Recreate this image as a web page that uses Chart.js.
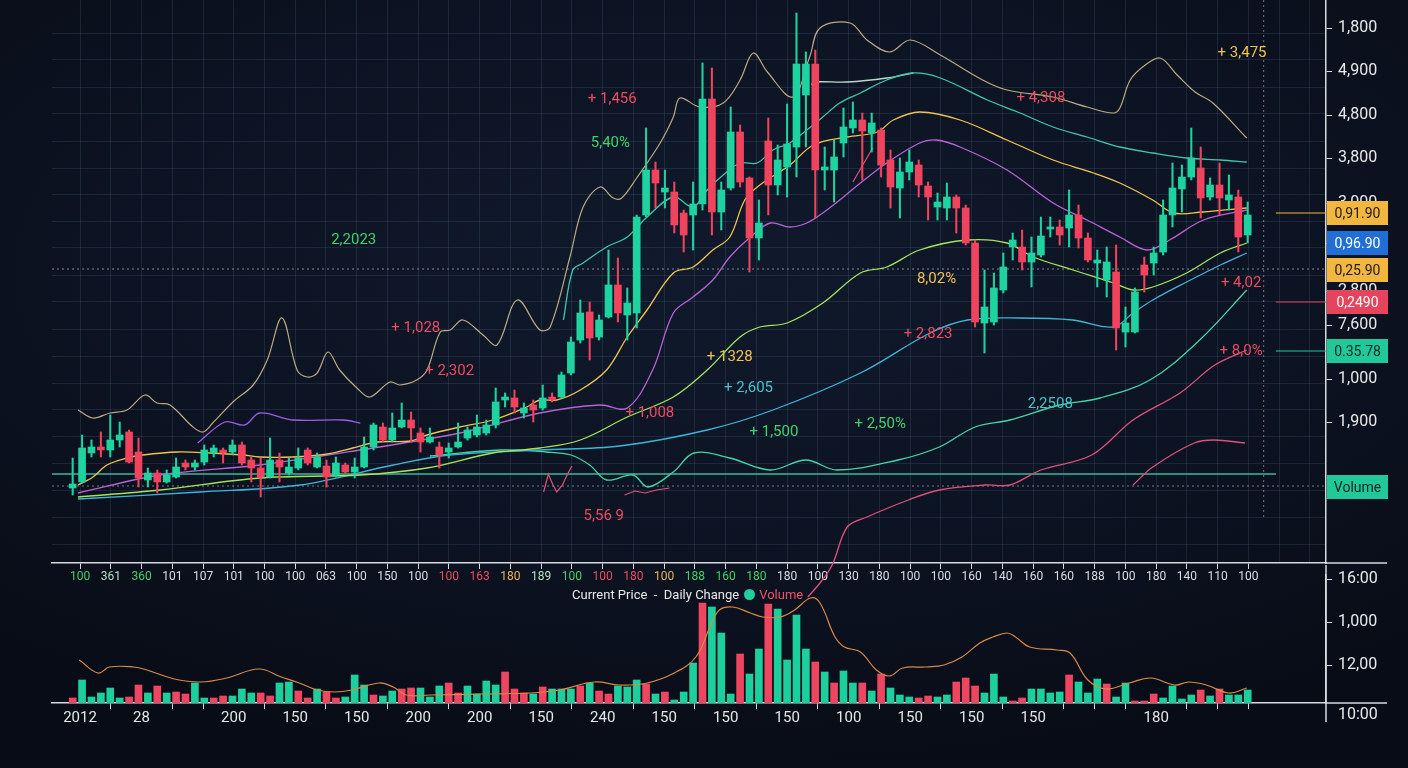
<!DOCTYPE html>
<html lang="en">
<head>
<meta charset="utf-8">
<title>Price / Volume</title>
<script src="https://cdn.jsdelivr.net/npm/chart.js@4.4.1/dist/chart.umd.min.js"></script>
<style>
  html, body { margin: 0; padding: 0; }
  body { width: 1408px; height: 768px; overflow: hidden; background: #0a0f1c; }
  #stage {
    position: relative; width: 1408px; height: 768px;
    background: radial-gradient(ellipse 75% 65% at 50% 35%, #101a2c 0%, #0c1322 55%, #080c16 100%);
  }
  canvas { position: absolute; left: 0; }
  #priceChart { top: 0; }
  #volumeChart { top: 565px; }
  #legend {
    position: absolute; left: 572px; top: 587px; white-space: nowrap;
    font: 13px Roboto, "Noto Sans", sans-serif; line-height: 16px; color: #e8e8e8;
  }
  #legend .dot {
    display: inline-block; width: 11px; height: 11px; border-radius: 50%;
    background: #1fcf9f; vertical-align: -1px; margin: 0 4px 0 5px;
  }
  #legend .vol { color: #f0506a; }
</style>
</head>
<body>
<div id="stage">
  <canvas id="priceChart" width="1408" height="600"></canvas>
  <canvas id="volumeChart" width="1408" height="203"></canvas>
  <div id="legend">Current Price &nbsp;-&nbsp; Daily Change<span class="dot"></span><span class="vol">Volume</span></div>
</div>
<script>
// ---- CANDLES (one per session, index 0..125) ----
const opens = [
  75, 81, 110, 116, 113, 123, 131, 111, 83, 90,
  81, 86, 100, 96, 101, 110, 113, 111, 118, 103,
  95, 86, 103, 90, 95, 113, 96, 97, 88, 98,
  91, 96, 116, 136, 123, 136, 143, 130, 121, 116,
  111, 116, 125, 128, 130, 138, 163, 165, 150, 158,
  155, 166, 166, 190, 223, 251, 226, 246, 278, 248,
  250, 348, 393, 371, 371, 350, 348, 359, 464, 351,
  375, 431, 385, 325, 422, 378, 396, 416, 468, 499,
  393, 393, 420, 435, 443, 430, 433, 403, 375, 391,
  398, 377, 356, 355, 366, 355, 320, 240, 241, 273,
  316, 316, 301, 308, 334, 336, 335, 348, 325, 300,
  283, 291, 231, 231, 298, 300, 311, 348, 374, 386,
  395, 366, 378, 363, 366, 328
];
const closes = [
  79, 115, 116, 113, 123, 128, 101, 85, 90, 81,
  88, 96, 96, 100, 113, 115, 110, 118, 100, 95,
  86, 103, 96, 96, 105, 100, 106, 86, 100, 91,
  96, 116, 138, 123, 135, 143, 135, 121, 126, 108,
  115, 121, 133, 136, 138, 161, 166, 156, 155, 153,
  165, 163, 188, 221, 250, 225, 243, 278, 250, 260,
  346, 393, 380, 375, 338, 328, 359, 464, 351, 373,
  431, 381, 325, 340, 378, 403, 419, 499, 499, 393,
  396, 406, 436, 443, 432, 440, 398, 376, 391, 401,
  378, 366, 361, 366, 355, 320, 241, 256, 275, 296,
  323, 301, 310, 327, 336, 328, 348, 325, 303, 303,
  301, 235, 240, 271, 288, 310, 348, 375, 386, 405,
  365, 378, 365, 368, 326, 348
];
const highs = [
  105, 128, 123, 131, 148, 141, 133, 125, 95, 93,
  93, 105, 103, 103, 118, 118, 115, 123, 121, 106,
  105, 125, 110, 105, 115, 115, 110, 103, 106, 100,
  105, 126, 140, 140, 150, 160, 151, 135, 135, 121,
  120, 140, 136, 148, 143, 175, 170, 173, 160, 163,
  178, 170, 191, 226, 263, 261, 248, 313, 305, 275,
  348, 435, 401, 393, 381, 353, 381, 500, 495, 381,
  456, 438, 386, 363, 445, 418, 459, 550, 511, 513,
  416, 423, 455, 461, 450, 450, 435, 413, 405, 413,
  403, 381, 370, 380, 368, 358, 323, 293, 290, 310,
  330, 333, 326, 346, 346, 343, 373, 358, 330, 313,
  316, 318, 256, 275, 306, 316, 363, 400, 398, 435,
  416, 385, 400, 388, 373, 361
];
const lows = [
  68, 80, 106, 106, 106, 116, 100, 76, 76, 70,
  80, 85, 93, 93, 98, 106, 100, 108, 98, 81,
  66, 85, 81, 88, 93, 98, 95, 76, 86, 90,
  85, 95, 113, 121, 121, 135, 121, 111, 120, 95,
  105, 115, 123, 126, 128, 135, 156, 150, 145, 141,
  153, 161, 165, 188, 220, 203, 223, 245, 241, 223,
  235, 346, 355, 355, 330, 311, 313, 353, 328, 333,
  373, 376, 291, 303, 348, 368, 366, 386, 416, 345,
  373, 361, 406, 430, 383, 411, 386, 355, 345, 383,
  366, 343, 343, 343, 330, 318, 236, 210, 238, 270,
  303, 293, 276, 306, 326, 318, 316, 315, 301, 276,
  266, 213, 216, 230, 271, 288, 308, 336, 351, 383,
  345, 363, 348, 353, 311, 320
];

// ---- VOLUME ----
const volumes = [
  5, 23, 6, 10, 15, 5, 6, 18, 10, 17,
  10, 11, 9, 20, 5, 5, 7, 7, 14, 10,
  10, 7, 20, 21, 12, 5, 14, 11, 5, 6,
  28, 18, 8, 7, 12, 14, 15, 15, 6, 17,
  20, 10, 17, 9, 22, 18, 31, 14, 10, 9,
  16, 14, 14, 14, 17, 20, 12, 9, 17, 16,
  23, 19, 9, 11, 3, 11, 40, 100, 96, 70,
  9, 49, 29, 54, 99, 94, 43, 88, 54, 41,
  31, 20, 32, 20, 20, 12, 29, 15, 8, 6,
  5, 7, 6, 8, 21, 25, 17, 10, 29, 6,
  2, 5, 14, 14, 10, 11, 28, 21, 10, 24,
  19, 6, 20, 2, 2, 9, 5, 17, 4, 8,
  13, 7, 14, 8, 8, 13
];
// 1 = up session, 0 = down session
const volumeUp = [
  0, 1, 1, 1, 1, 1, 0, 0, 1, 0,
  1, 0, 0, 1, 1, 0, 0, 1, 1, 1,
  0, 0, 1, 1, 0, 0, 1, 0, 0, 1,
  1, 1, 0, 1, 1, 0, 0, 1, 1, 1,
  0, 0, 1, 1, 1, 1, 0, 0, 0, 1,
  0, 1, 1, 1, 0, 1, 0, 0, 1, 1,
  1, 0, 1, 0, 1, 1, 1, 0, 1, 1,
  1, 0, 1, 1, 0, 1, 1, 1, 1, 0,
  1, 0, 1, 1, 0, 1, 0, 1, 1, 1,
  0, 0, 1, 1, 0, 0, 0, 1, 1, 1,
  0, 0, 1, 1, 1, 1, 0, 1, 1, 1,
  0, 1, 1, 0, 0, 0, 1, 1, 1, 1,
  0, 1, 0, 1, 1, 1
];
// volume average curve [session, volume]
const volumeAvg = [
  [0.7, 43], [2.7, 30], [3.9, 36], [6.5, 36], [7.9, 33], [10.8, 24], [13.6, 21], [16.4, 25],
  [19.8, 34], [22.2, 26], [24.1, 20], [26, 13], [27.9, 11], [29.7, 13], [32.6, 20], [34.1, 16],
  [35.5, 8], [38, 8], [43.3, 9], [48.7, 10], [51.8, 13], [55.5, 21], [58.2, 18], [61.1, 20],
  [64, 30], [66.3, 46], [67.8, 76], [68.8, 93], [70.2, 96], [72.1, 90], [73.4, 86], [75.3, 86],
  [76.8, 93], [78.5, 105], [79.5, 100], [81.1, 66], [82.1, 56], [83.8, 51], [85.5, 33], [86.9, 27],
  [88.3, 35], [90.8, 36], [92.7, 38], [94.6, 46], [96.5, 60], [97.9, 66], [99.4, 70], [100.3, 66],
  [101.8, 56], [104.7, 53], [106.1, 50], [108, 23], [109.9, 14], [112.4, 20], [114.7, 25], [117.2, 18],
  [118.7, 21], [120.6, 18], [123, 10], [124.9, 15]
];

// ---- INDICATOR LINES [session, price] ----
const upperEnvelope = [
  [0.56, 153], [2.16, 145], [3.97, 150], [5.78, 153], [7.69, 168], [8.97, 160], [10.35, 158], [12.8, 136],
  [13.86, 131], [14.9, 140], [17.05, 161], [19.2, 178], [20.7, 203], [22.27, 245], [23.87, 193], [24.93, 186],
  [26, 190], [27.16, 211], [28.4, 193], [30.24, 175], [31.6, 166], [33.75, 181], [34.8, 178], [36.6, 183],
  [37.7, 193], [39.1, 231], [40.16, 233], [41.5, 243], [43.65, 228], [45.14, 218], [47.3, 263], [49.7, 233],
  [50.8, 236], [52.9, 306], [54.3, 356], [56.1, 376], [57.5, 365], [58.4, 365], [60, 385], [62.5, 420],
  [63.9, 446], [64.6, 465], [66.7, 456], [69.2, 460], [71, 483], [72.4, 510], [73.9, 491], [76.6, 466],
  [78.4, 506], [79.5, 535], [82.7, 540], [84.5, 523], [86.9, 511], [89.1, 523], [92.3, 508], [96.8, 483],
  [99.4, 473], [104.3, 466], [107.9, 456], [110.7, 450], [111.4, 455], [112.5, 483], [114.1, 498], [115.7, 505],
  [117.5, 488], [119.4, 471], [121.3, 460], [124.9, 425]
];
const upperBand = [
  [52.2, 243], [53.2, 293], [54.3, 300], [56.8, 316], [59, 326], [61.1, 346], [63.9, 366], [66, 356],
  [67.5, 373], [69.2, 388], [71, 400], [72.8, 400], [74.5, 413], [76.3, 420], [78.1, 433], [79.8, 446],
  [81.6, 460], [83.8, 470], [86.6, 483], [89.4, 490], [92.3, 485], [97.3, 463], [100.8, 450], [104.3, 436],
  [107.9, 426], [111.4, 416], [114.9, 410], [118.5, 405], [122.1, 403], [124.9, 401]
];
const mintLine = [[78.6, 478], [78.8, 481], [82.4, 481], [86.6, 485], [89.4, 490]];
const fastAvg = [
  [0.56, 78], [2.16, 86], [3.65, 98], [5.78, 105], [7.48, 108], [11.1, 111], [14.6, 110], [18.1, 108],
  [19.9, 106], [23.4, 106], [27.1, 109], [29.8, 115], [32.4, 121], [35.9, 122], [37.7, 128], [41.2, 136],
  [44.7, 143], [48.3, 156], [49.7, 163], [51.5, 163], [54, 173], [56.8, 193], [59, 226], [61.1, 253],
  [63.9, 290], [66, 296], [68.1, 313], [69.9, 326], [71.5, 363], [73.1, 378], [76.3, 398], [78.8, 418],
  [82.4, 426], [85.6, 431], [87.3, 443], [90.1, 451], [94.4, 443], [99.4, 423], [104.3, 403], [108.6, 390],
  [111.4, 380], [114.9, 363], [117.1, 350], [120.2, 351], [124.9, 355]
];
const midAvg = [
  [0.56, 70], [9.3, 88], [19.9, 98], [30.6, 113], [41.2, 130], [49.7, 150], [56.1, 158], [59, 155],
  [61.7, 193], [63.9, 250], [66, 266], [68.1, 283], [69.9, 306], [72.1, 326], [74.2, 340], [76.3, 336],
  [78.1, 340], [79.8, 350], [81.6, 363], [83.8, 380], [86.6, 400], [90.1, 420], [91.9, 423], [94.4, 416],
  [99.4, 393], [104.3, 360], [107.9, 343], [111.4, 326], [114.3, 313], [116.7, 323], [120.3, 343], [124.9, 353]
];
const earlyBand = [[13.3, 120], [16.2, 141], [18.3, 138], [19.9, 150], [23.4, 143], [28.8, 143], [30.6, 140]];
const slowAvg = [
  [0.56, 66], [9.3, 73], [19.9, 85], [30.6, 88], [37.7, 95], [44.7, 110], [49.7, 115], [54, 123],
  [59, 146], [63.9, 166], [67.5, 193], [71, 226], [73.1, 236], [76, 240], [79.8, 260], [83.8, 290],
  [86.6, 296], [90.1, 313], [95.2, 323], [99.4, 320], [102.2, 306], [106.4, 293], [110.7, 280], [112.8, 273],
  [114.9, 276], [118.5, 290], [122.1, 310], [124.9, 320]
];
const lowerBand = [
  [0.56, 64], [13.5, 71], [24.2, 78], [34.1, 98], [40.1, 108], [49.7, 113], [58.2, 117], [67.5, 133],
  [74.5, 153], [83.8, 190], [91.2, 230], [95.2, 243], [100.8, 245], [106.4, 243], [110.7, 236], [112.8, 250],
  [114.9, 263], [118.5, 281], [122.1, 298], [124.9, 310]
];
const signalWave = [
  [38, 107], [45.5, 113], [50.4, 111], [53, 108], [55, 98], [56.8, 83], [59.6, 88], [61.2, 76],
  [63.9, 91], [66.1, 110], [69.9, 105], [74.2, 93], [78, 103], [81.3, 93], [87.8, 103], [92.2, 116],
  [96, 136], [99.7, 143], [105, 158], [109.3, 165], [114.6, 183], [119.9, 223], [124.9, 273]
];
const momentum = [
  [78.2, -34], [79.5, -20], [80.8, -2], [82.4, 36], [84.5, 46], [88.9, 63], [92.2, 73], [97.1, 78],
  [99.7, 78], [103, 93], [108.4, 108], [112.8, 143], [117.8, 170], [121.5, 198], [124.9, 213]
];
const momentumShort = [[112.8, 78], [114.9, 96], [119.3, 120], [121.4, 123], [124.7, 120]];
const ticksPink = [
  [50.1, 71], [50.6, 89], [51.1, 78], [51.5, 71], [52.1, 78], [52.6, 88], [53.1, 97], [55, null],
  [58.7, 68], [59.8, 72], [60.9, 70], [62.1, 73], [63.5, 75], [70, null],
  [83, 381], [85.1, 415]
];

// ---- REFERENCE LEVELS ----
const volumeLevel = 89;
const lastPriceLevel = 294;
const floorLevel = 77;
const cursorSession = 126.7;

// ---- AXIS TEXT ----
const xTickLabels = ['100', '361', '360', '101', '107', '101', '100', '100', '063', '100', '150', '100', '100',
  '163', '180', '189', '100', '100', '180', '100', '188', '160', '180', '180', '100', '130', '180', '100',
  '100', '160', '140', '160', '160', '188', '100', '180', '140', '110', '100'];
const xTickTints = {0: 'g', 1: 'p', 2: 'g', 12: 'r', 13: 'r', 14: 'o', 15: 'p', 16: 'g', 17: 'r', 18: 'r',
  19: 'o', 20: 'g', 21: 'g', 22: 'g'};
const volumeTickLabels = {0: '2012', 2: '28', 5: '200', 7: '150', 9: '150', 11: '200', 13: '200', 15: '150',
  17: '240', 19: '150', 21: '150', 23: '150', 25: '100', 27: '150', 29: '150', 31: '150', 35: '180'};
const priceTickValues = [535, 492, 448, 405, 360, 320, 272, 238, 184, 141];
const priceTickLabels = ['1,800', '4,900', '4,800', '3,800', '3,000', '2,900', '2,800', '7,600', '1,000', '1,900'];
const priceGridValues = [530, 503, 476, 449, 422, 395, 369, 342, 315, 288, 261, 234, 207, 180, 154, 127, 100, 73, 46, 19];
const volumeTickValues = [124, 81, 38, -12];
const volumeTickLabels2 = ['16:00', '1,000', '12,00', '10:00'];

// ---- NOTES ON THE CHART ----
const priceNotes = [
  {at: 57.4, price: 464, text: '+ 1,456', tone: 'r'},
  {at: 57.2, price: 420, text: '5,40%', tone: 'g'},
  {at: 29.9, price: 323, text: '2,2023', tone: 'g'},
  {at: 36.5, price: 235, text: '+ 1,028', tone: 'r'},
  {at: 40.1, price: 192, text: '+ 2,302', tone: 'r'},
  {at: 69.9, price: 206, text: '+ 1328', tone: 'y'},
  {at: 71.9, price: 175, text: '+ 2,605', tone: 'c'},
  {at: 61.4, price: 150, text: '+ 1,008', tone: 'r'},
  {at: 74.6, price: 131, text: '+ 1,500', tone: 'g'},
  {at: 85.9, price: 139, text: '+ 2,50%', tone: 'g'},
  {at: 104, price: 159, text: '2,2508', tone: 'c'},
  {at: 91.9, price: 284, text: '8,02%', tone: 'y'},
  {at: 91.0, price: 229, text: '+ 2,823', tone: 'r'},
  {at: 103.0, price: 465, text: '+ 4,308', tone: 'r'},
  {at: 124.4, price: 510, text: '+ 3,475', tone: 'y'},
  {at: 124.3, price: 280, text: '+ 4,02', tone: 'r'},
  {at: 124.3, price: 212, text: '+ 8,0%', tone: 'r'},
  {at: 56.5, price: 47, text: '5,56 9', tone: 'r'}
];
const priceTags = [
  {price: 350, text: '0,91.90', tone: 'y', leader: true},
  {price: 320, text: '0,96.90', tone: 'b', leader: false},
  {price: 293, text: '0,25.90', tone: 'y', leader: false},
  {price: 261, text: '0,2490', tone: 'r', leader: true},
  {price: 212, text: '0.35.78', tone: 'g', leader: true},
  {price: 76, text: 'Volume', tone: 'g', leader: false}
];

// ---- LOOK ----
const UP = '#1fd3a0';
const DOWN = '#f0435d';
const GRID = 'rgba(64, 84, 116, 0.32)';
const AXIS = '#d6d9de';
const TONES = {r: '#ee4a62', g: '#3fd26b', y: '#f2c14e', c: '#45c4c8', o: '#e9b45a', p: '#b9dfc7', b: '#1f6fd6'};
const TAG_FILL = {y: '#f3b63e', b: '#1f6fd6', r: '#e6435c', g: '#21c99a'};
const TAG_INK = {y: '#1a1c20', b: '#ffffff', r: '#ffffff', g: '#10241e'};
const X_MIN = -2.2, X_MAX = 133.33;
const X_TICK_FIRST = 0.78, X_TICK_STEP = 3.271, X_TICK_COUNT = 41;

Chart.defaults.font.family = 'Roboto, "Noto Sans", sans-serif';
Chart.defaults.color = '#e6e6e6';

const xTickValues = Array.from({length: X_TICK_COUNT}, (_, k) => X_TICK_FIRST + k * X_TICK_STEP);
const noPad = s => { s.paddingLeft = 0; s.paddingRight = 0; s.paddingTop = 0; s.paddingBottom = 0; };

function lineSet(label, pts, color, extra) {
  return Object.assign({
    type: 'line', label,
    data: pts.map(([x, y]) => ({x, y})),
    borderColor: color, borderWidth: 1.3,
    pointRadius: 0, tension: 0.35, fill: false, spanGaps: false, order: 3
  }, extra || {});
}
const flat = (level) => [[X_MIN, level], [X_MAX, level]];

const candleColors = opens.map((o, i) => closes[i] >= o ? UP : DOWN);

const axisTrim = {
  id: 'axisTrim',
  afterDraw(chart, args, opts) {
    const {ctx, chartArea: a} = chart;
    ctx.save();
    ctx.strokeStyle = AXIS;
    ctx.lineWidth = 1.5;
    ctx.beginPath();
    ctx.moveTo(a.right, a.bottom);
    ctx.lineTo(a.right + 61, a.bottom);
    if (opts.tail) {
      ctx.moveTo(a.right, a.top - 10);
      ctx.lineTo(a.right, a.bottom + 19);
    }
    ctx.stroke();
    ctx.restore();
  }
};

const priceMarks = {
  id: 'priceMarks',
  afterDatasetsDraw(chart) {
    const {ctx, scales: {x, y}} = chart;
    ctx.save();
    ctx.font = '15px Roboto, "Noto Sans", sans-serif';
    ctx.textAlign = 'center';
    ctx.textBaseline = 'middle';
    priceNotes.forEach(n => {
      ctx.fillStyle = TONES[n.tone];
      ctx.fillText(n.text, x.getPixelForValue(n.at), y.getPixelForValue(n.price));
    });
    ctx.restore();
  },
  afterDraw(chart) {
    const {ctx, chartArea: a, scales: {x, y}} = chart;
    ctx.save();
    ctx.font = '14px Roboto, "Noto Sans", sans-serif';
    ctx.textAlign = 'center';
    ctx.textBaseline = 'middle';
    priceTags.forEach(t => {
      const py = y.getPixelForValue(t.price);
      if (t.leader) {
        ctx.strokeStyle = TAG_FILL[t.tone];
        ctx.lineWidth = 1.2;
        ctx.beginPath();
        ctx.moveTo(x.getPixelForValue(128), py);
        ctx.lineTo(a.right, py);
        ctx.stroke();
      }
      ctx.fillStyle = TAG_FILL[t.tone];
      ctx.fillRect(a.right + 1, py - 12, 61, 24);
      ctx.fillStyle = TAG_INK[t.tone];
      ctx.fillText(t.text, a.right + 31.5, py + 1);
    });
    ctx.restore();
  }
};

// GRAPH PRIX
const priceChart = new Chart(document.getElementById('priceChart'), {
  type: 'bar',
  data: {
    datasets: [
      {
        type: 'bar', label: 'Body',
        data: opens.map((o, i) => ({x: i, y: [o, closes[i]]})),
        backgroundColor: candleColors, borderWidth: 0,
        barThickness: 7, minBarLength: 2, grouped: false, order: 1
      },
      {
        type: 'bar', label: 'Wick',
        data: lows.map((l, i) => ({x: i, y: [l, highs[i]]})),
        backgroundColor: candleColors, borderWidth: 0,
        barThickness: 1.4, grouped: false, order: 2
      },
      lineSet('Envelope', upperEnvelope, 'rgba(205, 185, 140, 0.9)', {borderWidth: 1.2}),
      lineSet('Upper band', upperBand, '#3cc8a8'),
      lineSet('Mint', mintLine, 'rgba(215, 250, 232, 0.85)'),
      lineSet('Fast MA', fastAvg, '#f0c44c'),
      lineSet('Mid MA', midAvg, '#b962d6'),
      lineSet('Early band', earlyBand, '#9b5de5'),
      lineSet('Slow MA', slowAvg, '#a6e35c'),
      lineSet('Lower band', lowerBand, '#3fb4d9'),
      lineSet('Signal', signalWave, '#46d4a4'),
      lineSet('Momentum', momentum, '#e0507c', {clip: false}),
      lineSet('Momentum short', momentumShort, '#e0507c'),
      lineSet('Ticks', ticksPink, '#e0507c', {tension: 0, borderWidth: 1.2}),
      lineSet('Volume level', flat(volumeLevel).map(([x, v]) => [Math.min(x, 128), v]), '#38b99a', {tension: 0}),
      lineSet('Last price', flat(lastPriceLevel), 'rgba(210, 210, 210, 0.6)', {tension: 0, borderWidth: 1, borderDash: [2, 3]}),
      lineSet('Floor', flat(floorLevel), 'rgba(210, 210, 210, 0.55)', {tension: 0, borderWidth: 1, borderDash: [2, 3]}),
      lineSet('Cursor', [[cursorSession, 563], [cursorSession, 43]], 'rgba(210, 210, 210, 0.5)', {tension: 0, borderWidth: 1, borderDash: [2, 3]})
    ]
  },
  options: {
    responsive: false,
    animation: false,
    events: [],
    layout: {padding: {left: 52, top: 0, right: 0, bottom: 0}},
    plugins: {legend: {display: false}, tooltip: {enabled: false}},
    scales: {
      x: {
        type: 'linear', min: X_MIN, max: X_MAX, offset: false,
        border: {color: AXIS, width: 1.5},
        grid: {
          color: GRID, offset: false, tickLength: 6,
          tickColor: ctx => ctx.index < xTickLabels.length ? AXIS : 'rgba(0,0,0,0)'
        },
        ticks: {
          autoSkip: false, maxRotation: 0, padding: 1,
          font: {size: 12},
          color: ctx => TONES[xTickTints[ctx.index]] || '#dcdfe4',
          callback: (v, i) => xTickLabels[i] || ''
        },
        afterBuildTicks: s => { s.ticks = xTickValues.map(value => ({value})); },
        afterFit: s => { s.height = 37; noPad(s); }
      },
      y: {
        position: 'right', min: 0, max: 563,
        border: {color: AXIS, width: 1.5},
        grid: {drawOnChartArea: false, tickLength: 6, tickColor: AXIS},
        ticks: {
          autoSkip: false, padding: 6, color: '#e8e8e8', font: {size: 16},
          callback: (v, i) => priceTickLabels[i]
        },
        afterBuildTicks: s => { s.ticks = priceTickValues.map(value => ({value})); },
        afterFit: s => { s.width = 82; noPad(s); }
      },
      yg: {
        position: 'left', min: 0, max: 563,
        border: {display: false},
        grid: {color: GRID, drawTicks: false},
        ticks: {display: false},
        afterBuildTicks: s => { s.ticks = priceGridValues.map(value => ({value})); },
        afterFit: s => { s.width = 0; noPad(s); }
      }
    }
  },
  plugins: [priceMarks, axisTrim]
});

// GRAPH VOLUME
const volumeChart = new Chart(document.getElementById('volumeChart'), {
  type: 'bar',
  data: {
    datasets: [
      {
        type: 'line', label: 'Volume average',
        data: volumeAvg.map(([x, y]) => ({x, y})),
        borderColor: '#d98a45', borderWidth: 1.2, pointRadius: 0, tension: 0.4, order: 0
      },
      {
        type: 'bar', label: 'Volume',
        data: volumes.map((v, i) => ({x: i, y: v})),
        backgroundColor: volumeUp.map(u => u ? '#1dcf9c' : '#ee4560'),
        borderWidth: 0, barThickness: 7, grouped: false, order: 1
      }
    ]
  },
  options: {
    responsive: false,
    animation: false,
    events: [],
    layout: {padding: {left: 52, top: 10, right: 0, bottom: 0}},
    plugins: {legend: {display: false}, tooltip: {enabled: false}, axisTrim: {tail: true}},
    scales: {
      x: {
        type: 'linear', min: X_MIN, max: X_MAX, offset: false,
        border: {color: AXIS, width: 1.5},
        grid: {
          drawOnChartArea: false, offset: false, tickLength: 6,
          tickColor: ctx => (ctx.index < xTickLabels.length && !volumeTickLabels[ctx.index]) ? AXIS : 'rgba(0,0,0,0)'
        },
        ticks: {
          autoSkip: false, maxRotation: 0, padding: 0,
          font: {size: 15}, color: '#e6e6e6',
          callback: (v, i) => volumeTickLabels[i] || ''
        },
        afterBuildTicks: s => { s.ticks = xTickValues.map(value => ({value})); },
        afterFit: s => { s.height = 65; noPad(s); }
      },
      y: {
        position: 'right', min: 0, max: 128,
        border: {color: AXIS, width: 1.5},
        grid: {
          drawOnChartArea: false, tickLength: 6,
          tickColor: ctx => ctx.index < 3 ? AXIS : 'rgba(0,0,0,0)'
        },
        ticks: {
          autoSkip: false, padding: 6, color: '#e8e8e8', font: {size: 16},
          callback: (v, i) => volumeTickLabels2[i]
        },
        afterBuildTicks: s => { s.ticks = volumeTickValues.map(value => ({value})); },
        afterFit: s => { s.width = 82; noPad(s); }
      }
    }
  },
  plugins: [axisTrim]
});
</script>
</body>
</html>
